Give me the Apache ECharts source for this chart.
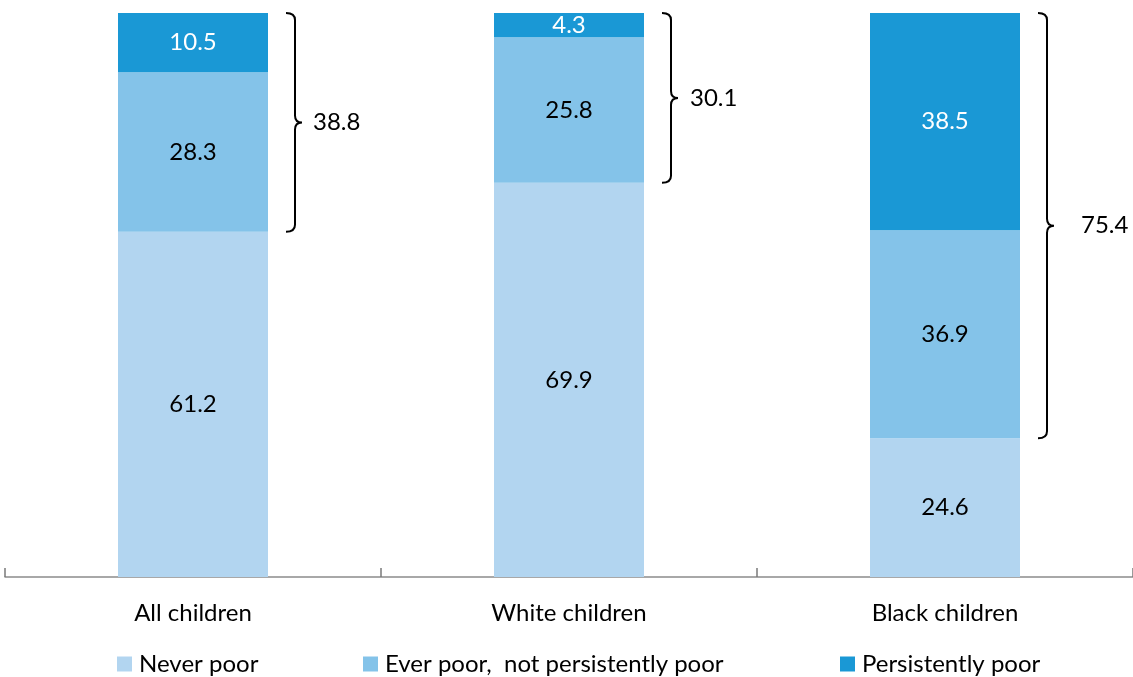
<!DOCTYPE html>
<html>
<head>
<meta charset="utf-8">
<script src="https://cdn.jsdelivr.net/npm/echarts@6/dist/echarts.min.js"></script>
<style>
  html, body { margin: 0; padding: 0; background: #fff; }
  #main { width: 1133px; height: 677px; }
</style>
</head>
<body>
<div id="main"></div>
<script>
var categories = ['All children', 'White children', 'Black children'];
var neverPoor = [61.2, 69.9, 24.6];
var everPoor = [28.3, 25.8, 36.9];
var persistentlyPoor = [10.5, 4.3, 38.5];
// brace: [category index, from value, to value, label]
var braces = [
  [0, 61.2, 100, '38.8'],
  [1, 69.9, 100, '30.1'],
  [2, 24.6, 100, '75.4']
];
// gap between brace tip and its label, px
var braceLabelGap = [8, 9, 24];

var FONT = 'Lato, "Open Sans", sans-serif';
var chart = echarts.init(document.getElementById('main'));

function braceItem(params, api) {
  var low = api.coord([api.value(0), api.value(1)]);
  var high = api.coord([api.value(0), api.value(2)]);
  var x0 = low[0] + 75 + 18;
  var yTop = high[1];
  var yBot = low[1];
  var yMid = (yTop + yBot) / 2;
  var xv = x0 + 9;
  var r = 7;
  var tip = xv + 10;
  var d = 'M' + x0 + ' ' + yTop +
    ' Q' + xv + ' ' + yTop + ' ' + xv + ' ' + (yTop + r) +
    ' L' + xv + ' ' + (yMid - r) +
    ' Q' + xv + ' ' + yMid + ' ' + (xv + 7) + ' ' + yMid +
    ' Q' + xv + ' ' + yMid + ' ' + xv + ' ' + (yMid + r) +
    ' L' + xv + ' ' + (yBot - r) +
    ' Q' + xv + ' ' + yBot + ' ' + x0 + ' ' + yBot;
  return {
    type: 'group',
    children: [
      { type: 'path', shape: { pathData: d },
        style: { fill: 'none', stroke: '#000', lineWidth: 2 } },
      { type: 'text',
        style: { text: braces[params.dataIndex][3], x: tip + braceLabelGap[params.dataIndex], y: yMid,
                 fill: '#000', fontSize: 24, fontFamily: FONT, verticalAlign: 'middle' } }
    ]
  };
}

var barLabel = { show: true, position: 'inside', color: '#000', fontSize: 24, fontFamily: FONT };

var option = {
  animation: false,
  grid: { left: 5, right: 0, top: 13, bottom: 100 },
  xAxis: {
    type: 'category',
    data: categories,
    axisLine: { lineStyle: { color: '#8c8c8c', width: 1.5 } },
    axisTick: { show: true, inside: true, length: 9, lineStyle: { color: '#7a7a7a', width: 1.5 } },
    axisLabel: { color: '#000', fontSize: 24, fontFamily: FONT, margin: 24 }
  },
  yAxis: { type: 'value', min: 0, max: 100, show: false },
  legend: [
    { data: ['Never poor'], left: 112, top: 647 },
    { data: ['Ever poor,  not persistently poor'], left: 358, top: 647 },
    { data: ['Persistently poor'], left: 835, top: 647 }
  ].map(function (l) {
    return Object.assign(l, {
      icon: 'rect', itemWidth: 15, itemHeight: 15, itemGap: 0,
      textStyle: { color: '#000', fontSize: 24, fontFamily: FONT, padding: [0, 0, 0, 2] }
    });
  }),
  series: [
    { name: 'Never poor', type: 'bar', stack: 'a', barWidth: 150, data: neverPoor,
      itemStyle: { color: '#b2d5f0' }, label: barLabel },
    { name: 'Ever poor,  not persistently poor', type: 'bar', stack: 'a', barWidth: 150, data: everPoor,
      itemStyle: { color: '#84c3e9' }, label: barLabel },
    { name: 'Persistently poor', type: 'bar', stack: 'a', barWidth: 150, data: persistentlyPoor,
      itemStyle: { color: '#1a98d5' },
      label: Object.assign({}, barLabel, { color: '#fff' }) },
    { type: 'custom', renderItem: braceItem, data: braces.map(function (b) { return [b[0], b[1], b[2]]; }),
      z: 10, silent: true }
  ]
};
chart.setOption(option);
</script>
</body>
</html>
